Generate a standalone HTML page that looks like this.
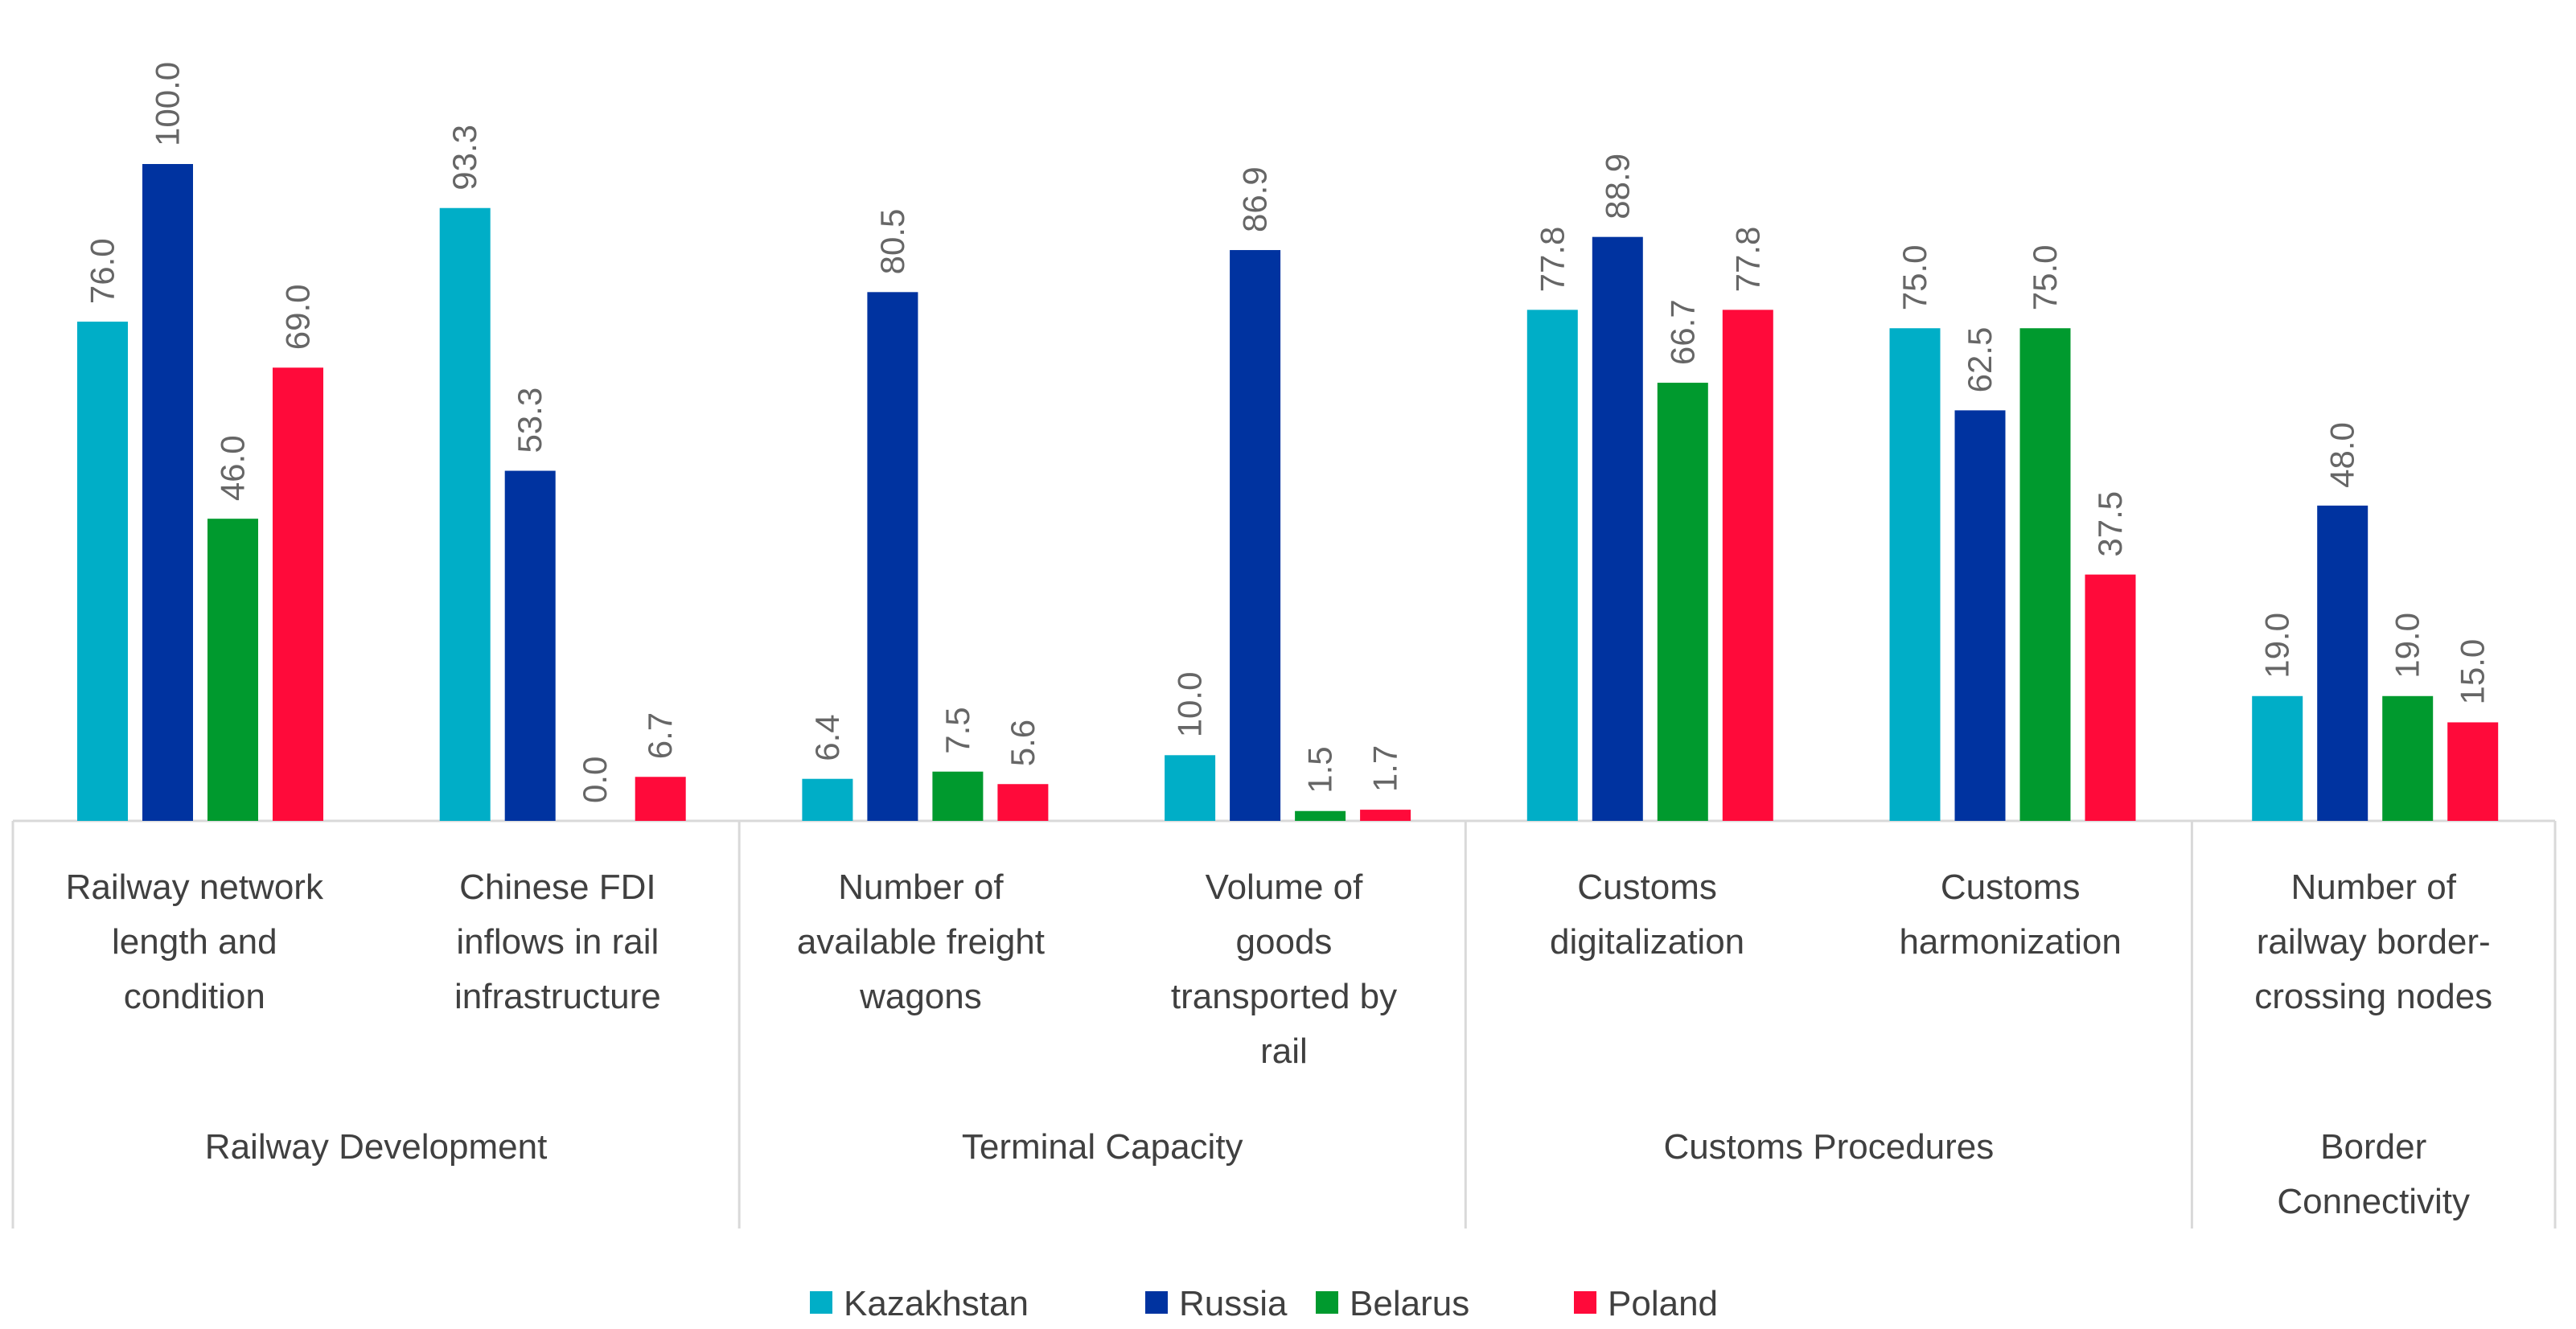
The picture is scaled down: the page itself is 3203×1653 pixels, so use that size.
<!DOCTYPE html>
<html><head><meta charset="utf-8"><style>
html,body{margin:0;padding:0;background:#fff;}
svg{display:block;font-family:"Liberation Sans",sans-serif;}
</style></head><body>
<svg id="chart" width="3203" height="1653" viewBox="0 0 3203 1653" xmlns="http://www.w3.org/2000/svg"></svg>
<script>
const categories = [
  ["Railway network","length and","condition"],
  ["Chinese FDI","inflows in rail","infrastructure"],
  ["Number of","available freight","wagons"],
  ["Volume of","goods","transported by","rail"],
  ["Customs","digitalization"],
  ["Customs","harmonization"],
  ["Number of","railway border-","crossing nodes"]
];
const groups = [["Railway Development"],["Terminal Capacity"],["Customs Procedures"],["Border","Connectivity"]];
const groupSpans = [2,2,2,1];
const seriesNames = ["Kazakhstan","Russia","Belarus","Poland"];
const kazakhstan = [76.0,93.3,6.4,10.0,77.8,75.0,19.0];
const russia = [100.0,53.3,80.5,86.9,88.9,62.5,48.0];
const belarus = [46.0,0.0,7.5,1.5,66.7,75.0,19.0];
const poland = [69.0,6.7,5.6,1.7,77.8,37.5,15.0];
const series = [kazakhstan,russia,belarus,poland];
const colors = ["#00AEC7","#0033A0","#009A2E","#FF0A3A"];

const svg = document.getElementById('chart');
const NS = "http://www.w3.org/2000/svg";
const x0 = 16, x1 = 3177, base = 1021, top100 = 204;
const cw = (x1 - x0) / categories.length;
const barStart = 249, barCw = 450.7;
const yScale = v => base - (base - top100) * v / 100;
const barW = 63, step = 81;
function mk(tag, attrs){ const e = document.createElementNS(NS, tag); for (const k in attrs) e.setAttribute(k, attrs[k]); svg.appendChild(e); return e; }

const ax = mk('line',{x1:x0,y1:base,x2:x1,y2:base,stroke:'#d9d9d9','stroke-width':3});


let acc = 0;
const bounds = [0];
groupSpans.forEach(s => { acc += s; bounds.push(acc); });
bounds.forEach(b => {
  const x = x0 + b * cw;
  const l = mk('line',{x1:x,y1:base,x2:x,y2:1528,stroke:'#d9d9d9','stroke-width':3});
  
  
});

categories.forEach((cat, i) => {
  const cx = x0 + cw * (i + 0.5);
  const bcx = barStart + barCw * i;
  series.forEach((s, j) => {
    const v = s[i];
    const bx = bcx - 1.5 * step - barW / 2 + j * step;
    const y = yScale(v);
    const r = mk('rect',{x:bx,y:y,width:barW,height:base - y,fill:colors[j]});
    
    
    const lx = bx + barW/2 + 14, ly = y - 22;
    const t = mk('text',{x:lx,y:ly,transform:`rotate(-90 ${lx} ${ly})`,'font-size':42,fill:'#666666'});
    t.textContent = v.toFixed(1);
    
    
  });
  const t = mk('text',{x:cx,y:1118,'text-anchor':'middle','font-size':44,fill:'#404040'});
  
  
  cat.forEach((line, k) => {
    const ts = document.createElementNS(NS,'tspan');
    ts.setAttribute('x', cx); ts.setAttribute('y', 1118 + k * 68);
    ts.textContent = line; t.appendChild(ts);
  });
});

groups.forEach((g, i) => {
  const cx = x0 + cw * (bounds[i] + bounds[i+1]) / 2;
  const t = mk('text',{'text-anchor':'middle','font-size':44,fill:'#404040'});
  
  
  g.forEach((line, k) => {
    const ts = document.createElementNS(NS,'tspan');
    ts.setAttribute('x', cx); ts.setAttribute('y', 1441 + k * 68);
    ts.textContent = line; t.appendChild(ts);
  });
});

const legX = [1007,1424,1636,1957];
seriesNames.forEach((n, j) => {
  const r = mk('rect',{x:legX[j],y:1606,width:28,height:28,fill:colors[j]});
  
  
  const t = mk('text',{x:legX[j]+42,y:1636,'font-size':44,fill:'#404040'});
  t.textContent = n;
  
  
});
</script>
</body></html>
